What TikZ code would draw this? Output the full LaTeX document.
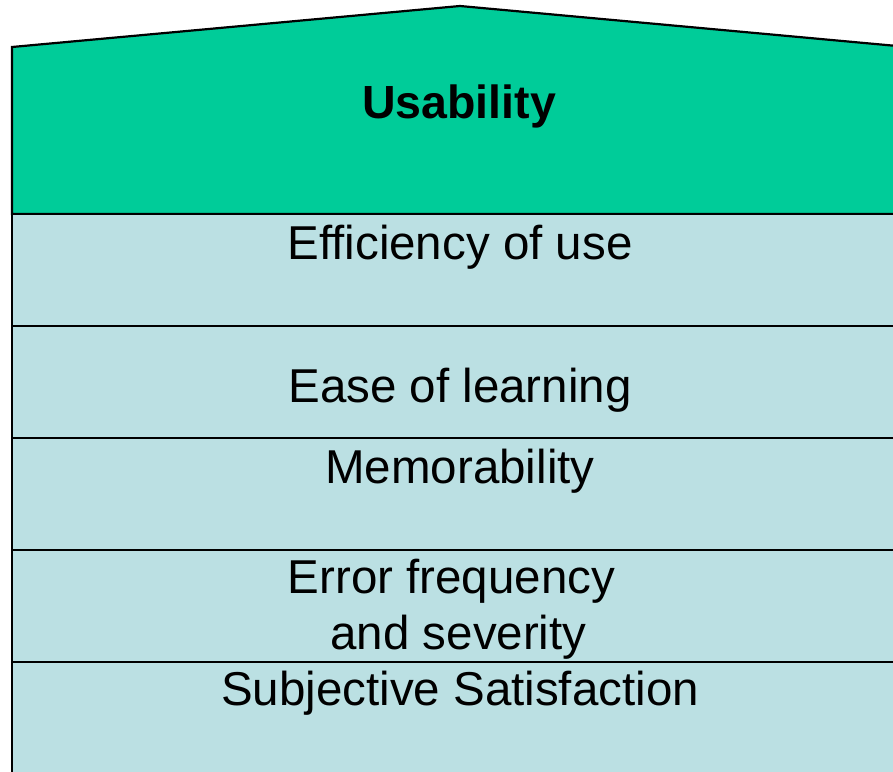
\documentclass[tikz,border=0pt]{standalone}
\usepackage{fontspec}
\setmainfont{Liberation Sans}
\definecolor{roofgreen}{HTML}{00CC99}
\definecolor{bandblue}{HTML}{BBE0E3}
\begin{document}
\begin{tikzpicture}[x=1pt,y=1pt,
  band/.style={draw=black, line width=2.4pt, fill=bandblue},
  roof/.style={draw=black, line width=2.2pt, fill=roofgreen, line join=miter},
  lbl/.style={font=\fontsize{47.5}{54}\selectfont, anchor=base, inner sep=0pt},
  title/.style={font=\fontsize{46.5}{54}\selectfont\bfseries, anchor=base, inner sep=0pt}]
\useasboundingbox (0,0) rectangle (893,-771);
\clip (0,0) rectangle (893,-771);
\draw[roof] (12,-214) -- (12,-47) -- (460,-6) -- (908,-47) -- (908,-214) -- cycle;
\draw[band] (12,-214) rectangle (908,-326);
\draw[band] (12,-326) rectangle (908,-438);
\draw[band] (12,-438) rectangle (908,-550);
\draw[band] (12,-550) rectangle (908,-662);
\draw[band] (12,-662) rectangle (908,-800);
\node[title] (t0) at (459,-118) {Usability};
\node[lbl] (t1) at (460,-259) {Efficiency of use};
\node[lbl] (t2) at (460,-402) {Ease of learning};
\node[lbl] (t3) at (460,-483) {Memorability};
\node[lbl] (t4a) at (451.5,-593) {Error frequency};
\node[lbl] (t4b) at (458.5,-649) {and severity};
\node[lbl] (t5) at (460,-705) {Subjective Satisfaction};
\end{tikzpicture}
\end{document}
